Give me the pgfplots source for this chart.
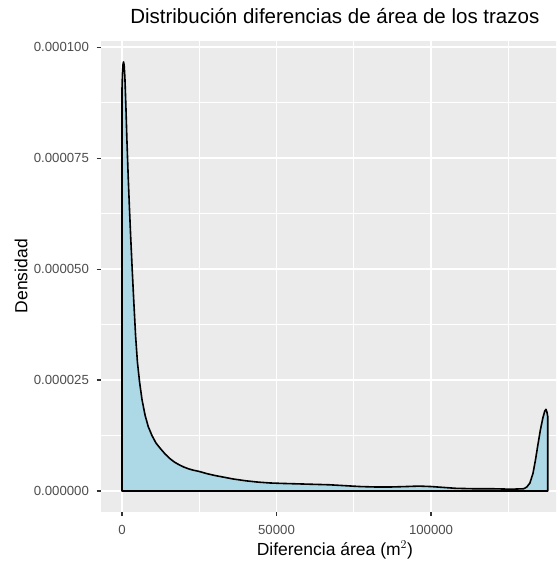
\documentclass[border=0pt]{standalone}
\usepackage{fontspec}
\setmainfont{Liberation Sans}
\usepackage{pgfplots}
\pgfplotsset{compat=1.18}
\definecolor{ggbg}{HTML}{EBEBEB}
\definecolor{ggfill}{HTML}{ADD8E6}
\definecolor{tickcol}{HTML}{333333}
\definecolor{ticklab}{HTML}{4D4D4D}
\begin{document}
\begin{tikzpicture}[x=1pt,y=1pt]
\useasboundingbox (0,0) rectangle (556,561);
\clip (0,0) rectangle (556,561);
\begin{axis}[
  at={(100.7pt,49.3pt)}, anchor=south west,
  scale only axis, width=468.3pt, height=471pt,
  xmin=-6888, xmax=144648,
  ymin=-4.67e-6, ymax=1.0148e-4,
  axis background/.style={fill=ggbg},
  axis line style={draw=none},
  grid=both,
  major grid style={white, line width=1.9pt},
  minor grid style={white, line width=0.95pt},
  xtick={0,50000,100000},
  minor xtick={25000,75000,125000},
  ytick={0,2.5e-5,5e-5,7.5e-5,1e-4},
  minor ytick={1.25e-5,3.75e-5,6.25e-5,8.75e-5},
  xticklabels={0,50000,100000},
  yticklabels={0.000000,0.000025,0.000050,0.000075,0.000100},
  scaled ticks=false,
  tick align=outside, tick pos=left,
  major tick length=4.2pt, minor tick length=0pt,
  tick style={tickcol, line width=1.2pt},
  every tick label/.append style={font=\fontsize{13.2}{15}\selectfont, text=ticklab, inner sep=0pt},
  xticklabel style={anchor=base, yshift=-18.3pt},
  yticklabel style={anchor=east, xshift=-7.4pt},
  title={Distribución diferencias de área de los trazos},
  title style={at={(axis description cs:0.5,1)}, anchor=base, yshift=10.7pt, inner sep=0pt, font=\fontsize{20.5}{24}\selectfont},
  xlabel={Diferencia área (m$^{2}$)},
  xlabel style={at={(axis description cs:0.5,0)}, anchor=base, yshift=-43.3pt, inner sep=0pt, font=\fontsize{17.5}{20}\selectfont},
  ylabel={Densidad},
  ylabel style={at={(axis description cs:0,0.5)}, anchor=center, rotate=0, yshift=79.7pt, inner sep=0pt, font=\fontsize{17.5}{20}\selectfont},
]
\addplot[fill=ggfill, draw=black, line width=1.6pt, line join=round] coordinates {
(0,0) (0,9.05e-5) (150,9.40e-5) (350,9.62e-5) (500,9.67e-5) (700,9.60e-5) (950,9.30e-5)
(1250,8.70e-5) (1600,7.90e-5) (2000,7.10e-5) (2400,6.40e-5) (2800,5.75e-5) (3300,5.00e-5)
(3800,4.30e-5) (4400,3.50e-5) (5000,2.90e-5) (5700,2.45e-5) (6500,2.05e-5) (7500,1.70e-5)
(8500,1.45e-5) (9700,1.25e-5) (11000,1.08e-5) (12500,9.5e-6) (14000,8.3e-6) (15500,7.3e-6)
(17000,6.5e-6) (18500,5.9e-6) (20000,5.4e-6) (21500,5.0e-6) (23000,4.7e-6) (25000,4.4e-6)
(27500,3.9e-6) (30000,3.5e-6) (33000,3.1e-6) (36000,2.7e-6) (40000,2.3e-6) (44000,2.0e-6)
(48000,1.8e-6) (52000,1.7e-6) (57000,1.6e-6) (62000,1.5e-6) (67000,1.4e-6) (72000,1.2e-6)
(77000,1.0e-6) (82000,9e-7) (87000,9e-7) (92000,1.0e-6) (96000,1.1e-6) (100000,1.0e-6)
(104000,8e-7) (108000,6e-7) (114000,5e-7) (120000,5e-7) (126000,4e-7) (130000,5e-7)
(131000,9e-7) (132000,1.8e-6) (133000,4.0e-6) (133800,7.0e-6) (134600,1.05e-5)
(135400,1.38e-5) (136200,1.65e-5) (136800,1.80e-5) (137200,1.84e-5) (137500,1.78e-5)
(137760,1.68e-5) (137760,0)
} -- cycle;
\end{axis}
\end{tikzpicture}
\end{document}
